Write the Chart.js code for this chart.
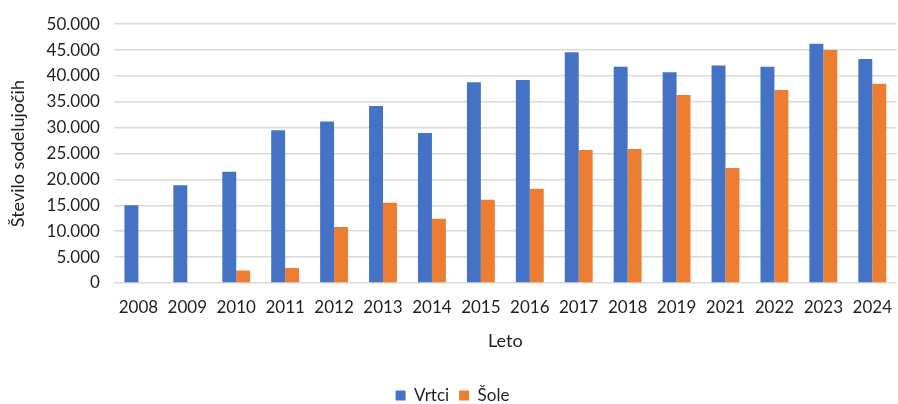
<!DOCTYPE html>
<html>
<head>
<meta charset="utf-8">
<script src="https://cdn.jsdelivr.net/npm/chart.js@4.4.0/dist/chart.umd.min.js"></script>
<style>
  html, body { margin: 0; padding: 0; background: #fff; }
  #wrap { width: 898px; height: 404px; }
</style>
</head>
<body>
<div id="wrap"><canvas id="chart" width="898" height="404"></canvas></div>
<script>
    // leta in stevilo sodelujocih
    const years = ['2008', '2009', '2010', '2011', '2012', '2013', '2014', '2015',
        '2016', '2017', '2018', '2019', '2021', '2022', '2023', '2024'];
    const vrtci = [15000, 18900, 21500, 29500, 31200, 34200, 29000, 38800,
        39200, 44600, 41800, 40700, 42000, 41800, 46200, 43300];
    const sole = [null, null, 2400, 2900, 10800, 15500, 12400, 16100,
        18200, 25700, 25900, 36300, 22200, 37300, 45000, 38500];

    const fontFamily = 'Lato, "Open Sans", sans-serif';
    const textColor = '#1f1f1f';

    function formatThousands(v) {
        return v.toString().replace(/\B(?=(\d{3})+(?!\d))/g, '.');
    }

    let ctx = document.getElementById('chart').getContext('2d');

    let chart = new Chart(ctx, {
        type: 'bar',
        data: {
            labels: years,
            datasets: [{
                label: 'Vrtci',
                data: vrtci,
                backgroundColor: '#4472C4',
                borderWidth: 0
            }, {
                label: 'Šole',
                data: sole,
                backgroundColor: '#ED7D31',
                borderWidth: 0
            }]
        },
        options: {
            responsive: false,
            animation: false,
            layout: {
                padding: { top: 12, right: 0, left: 7, bottom: -10 }
            },
            datasets: {
                bar: {
                    categoryPercentage: 0.57,
                    barPercentage: 1.0
                }
            },
            scales: {
                x: {
                    grid: { display: false },
                    border: { display: false },
                    ticks: {
                        color: textColor,
                        font: { family: fontFamily, size: 17 },
                        maxRotation: 0,
                        autoSkip: false,
                        padding: 6
                    },
                    title: {
                        display: true,
                        text: 'Leto',
                        color: textColor,
                        font: { family: fontFamily, size: 18 },
                        padding: { top: 7, bottom: 25 }
                    }
                },
                y: {
                    min: 0,
                    max: 50000,
                    ticks: {
                        stepSize: 5000,
                        color: textColor,
                        font: { family: fontFamily, size: 17 },
                        padding: 14,
                        callback: (v) => formatThousands(v)
                    },
                    grid: {
                        color: '#d9d9d9',
                        lineWidth: 1.5,
                        drawTicks: false
                    },
                    border: { display: false },
                    title: {
                        display: true,
                        text: 'Število sodelujočih',
                        color: textColor,
                        font: { family: fontFamily, size: 18 },
                        padding: { top: 0, bottom: 4 }
                    }
                }
            },
            plugins: {
                legend: {
                    position: 'bottom',
                    labels: {
                        color: textColor,
                        font: { family: fontFamily, size: 17 },
                        boxWidth: 10,
                        boxHeight: 10,
                        padding: 10
                    }
                },
                tooltip: { enabled: false }
            }
        }
    });
</script>
</body>
</html>
